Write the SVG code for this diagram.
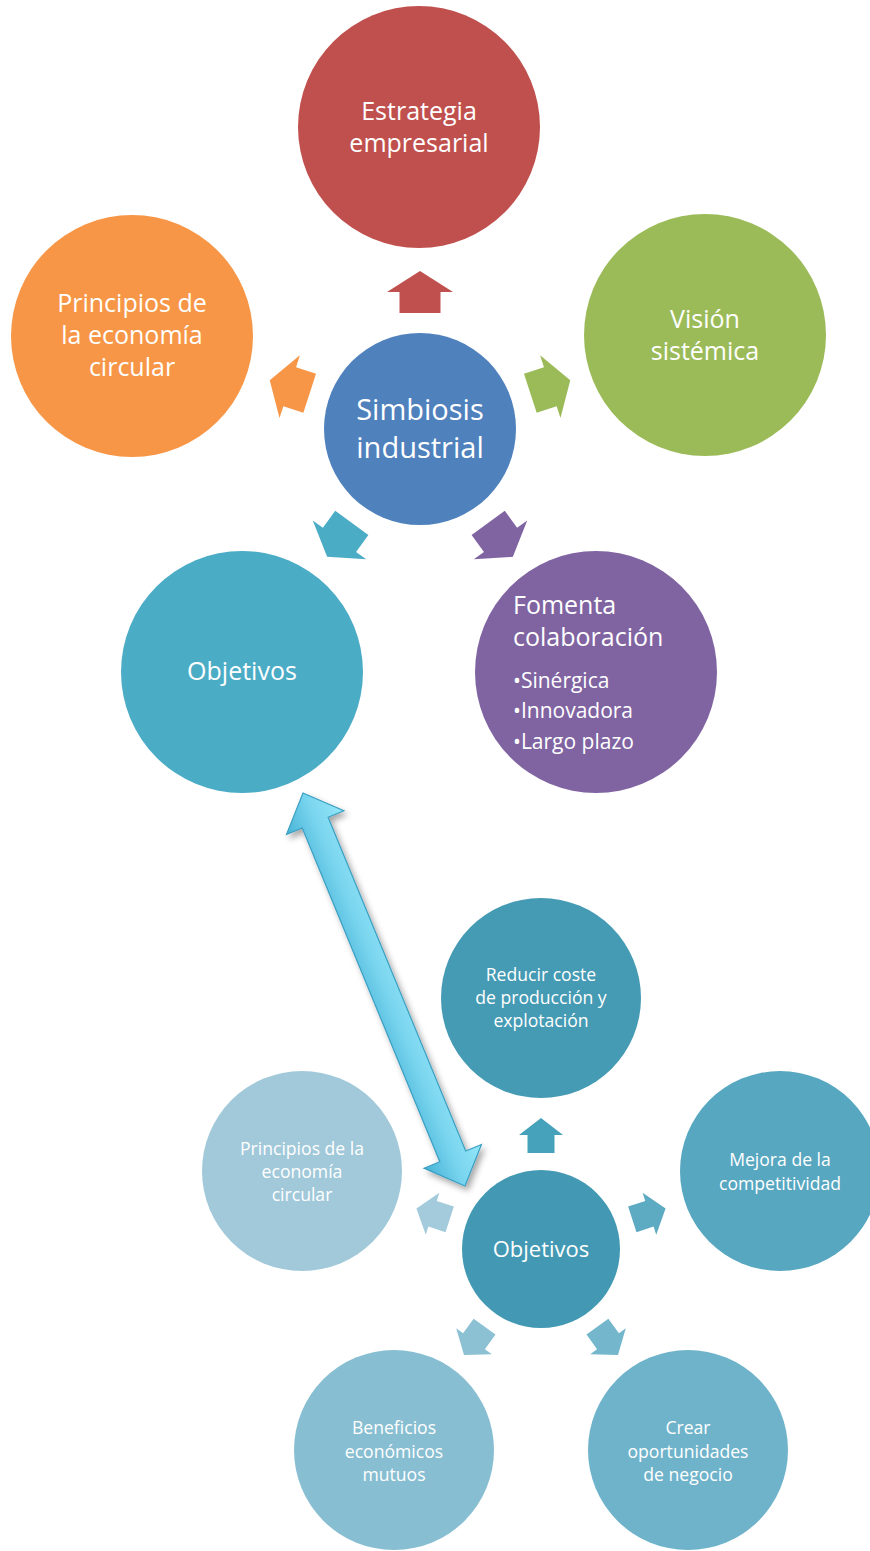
<svg xmlns="http://www.w3.org/2000/svg" width="870" height="1551" viewBox="0 0 870 1551">
<style>
text{font-family:"Open Sans","Liberation Sans",sans-serif;fill:#fff;text-anchor:middle}
.t25{font-size:25px}
.t29{font-size:29px}
.t22{font-size:22px}
.t17{font-size:17.6px}
.t20{font-size:21px;text-anchor:start}
.l25{font-size:25px;text-anchor:start}
</style>
<defs>
<path id="arrTop" d="M0,-158 L33,-137 L20.5,-137 L20.5,-116 L-20.5,-116 L-20.5,-137 L-33,-137 Z"/>
<path id="arrBot" d="M0,-131 L22,-114 L13.5,-114 L13.5,-96 L-13.5,-96 L-13.5,-114 L-22,-114 Z"/>
<linearGradient id="bigGrad" x1="0" y1="0" x2="0" y2="1">
<stop offset="0" stop-color="#93E6F8"/>
<stop offset="0.5" stop-color="#78D4EE"/>
<stop offset="1" stop-color="#47B3D6"/>
</linearGradient>
<filter id="shadow" x="-20%" y="-20%" width="140%" height="140%">
<feDropShadow dx="3" dy="4" stdDeviation="3" flood-color="#000" flood-opacity="0.35"/>
</filter>
</defs>

<g id="connectors">
<g transform="translate(420,429)">
<use href="#arrTop" fill="#C0504D"/>
<use href="#arrTop" fill="#9BBB59" transform="rotate(72)"/>
<use href="#arrTop" fill="#8064A2" transform="rotate(144)"/>
<use href="#arrTop" fill="#4BACC6" transform="rotate(216)"/>
<use href="#arrTop" fill="#F79646" transform="rotate(288)"/>
</g>
<g transform="translate(541,1249)">
<use href="#arrBot" fill="#46A1BB"/>
<use href="#arrBot" fill="#5DAAC3" transform="rotate(72)"/>
<use href="#arrBot" fill="#74B6CC" transform="rotate(144)"/>
<use href="#arrBot" fill="#8CC0D3" transform="rotate(216)"/>
<use href="#arrBot" fill="#A3CBDB" transform="rotate(288)"/>
</g>
</g>

<g id="simbiosis">
<circle cx="420" cy="429" r="96" fill="#4F81BD"/>
<text class="t29" x="420" y="420">Simbiosis</text>
<text class="t29" x="420" y="458">industrial</text>
</g>
<g id="estrategia">
<circle cx="419" cy="127" r="121" fill="#C0504D"/>
<text class="t25" x="419" y="120">Estrategia</text>
<text class="t25" x="419" y="152">empresarial</text>
</g>
<g id="vision">
<circle cx="705" cy="335" r="121" fill="#9BBB59"/>
<text class="t25" x="705" y="328">Visión</text>
<text class="t25" x="705" y="360">sistémica</text>
</g>
<g id="principios">
<circle cx="132" cy="336" r="121" fill="#F79646"/>
<text class="t25" x="132" y="312">Principios de</text>
<text class="t25" x="132" y="344">la economía</text>
<text class="t25" x="132" y="376">circular</text>
</g>
<g id="objetivos">
<circle cx="242" cy="672" r="121" fill="#4BACC6"/>
<text class="t25" x="242" y="680">Objetivos</text>
</g>
<g id="fomenta">
<circle cx="596" cy="672" r="121" fill="#8064A2"/>
<text class="l25" x="513" y="614">Fomenta</text>
<text class="l25" x="513" y="646">colaboración</text>
<text class="t20" x="513" y="688">•Sinérgica</text>
<text class="t20" x="513" y="718">•Innovadora</text>
<text class="t20" x="513" y="749">•Largo plazo</text>
</g>

<g id="objetivos2">
<circle cx="541" cy="1249" r="79" fill="#4399B3"/>
<text class="t22" x="541" y="1257">Objetivos</text>
</g>
<g id="reducir">
<circle cx="541" cy="998" r="100" fill="#459AB4"/>
<text class="t17" x="541" y="981">Reducir coste</text>
<text class="t17" x="541" y="1004">de producción y</text>
<text class="t17" x="541" y="1027">explotación</text>
</g>
<g id="mejora">
<circle cx="780" cy="1171" r="100" fill="#58A7C1"/>
<text class="t17" x="780" y="1166">Mejora de la</text>
<text class="t17" x="780" y="1190">competitividad</text>
</g>
<g id="crear">
<circle cx="688" cy="1450" r="100" fill="#6FB3CB"/>
<text class="t17" x="688" y="1434">Crear</text>
<text class="t17" x="688" y="1458">oportunidades</text>
<text class="t17" x="688" y="1481">de negocio</text>
</g>
<g id="beneficios">
<circle cx="394" cy="1450" r="100" fill="#88BED2"/>
<text class="t17" x="394" y="1434">Beneficios</text>
<text class="t17" x="394" y="1458">económicos</text>
<text class="t17" x="394" y="1481">mutuos</text>
</g>
<g id="principios2">
<circle cx="302" cy="1171" r="100" fill="#A1C9DA"/>
<text class="t17" x="302" y="1155">Principios de la</text>
<text class="t17" x="302" y="1178">economía</text>
<text class="t17" x="302" y="1201">circular</text>
</g>

<g id="big-arrow" filter="url(#shadow)">
<path transform="translate(303,793) rotate(67.6)" d="M0,0 L32,-31 L32,-14 L393,-14 L393,-31 L425,0 L393,31 L393,14 L32,14 L32,31 Z" fill="url(#bigGrad)" stroke="#3A9FC2" stroke-width="1.2" stroke-linejoin="miter"/>
</g>
</svg>
